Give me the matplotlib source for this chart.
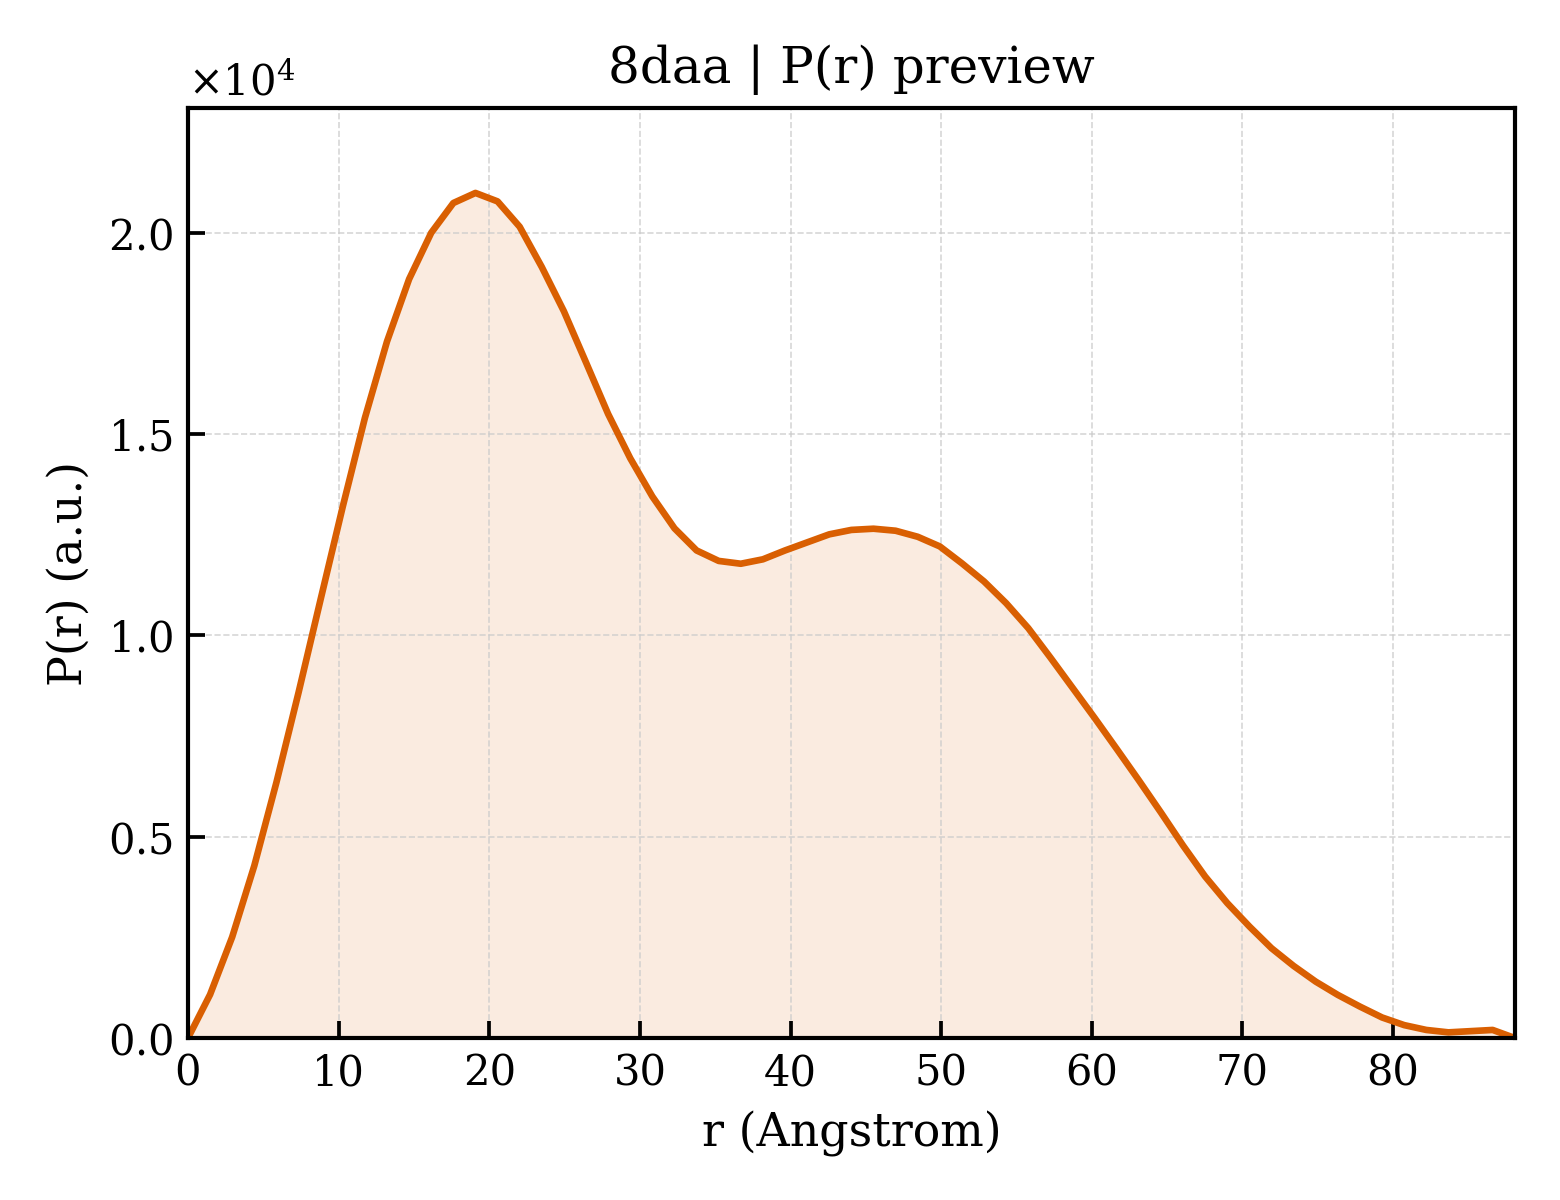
import numpy as np
import matplotlib
matplotlib.use("Agg")
import matplotlib.pyplot as plt
from matplotlib.ticker import ScalarFormatter

# P(r) samples (r in Angstrom, P in units of 1e4)
r_step = 1.468
p_vals = [
    0.000, 0.108, 0.251, 0.428, 0.635, 0.858, 1.090, 1.320, 1.540, 1.730,
    1.885, 2.000, 2.074, 2.099, 2.078, 2.015, 1.915, 1.805, 1.678, 1.550,
    1.440, 1.345, 1.266, 1.211, 1.185, 1.178, 1.189, 1.211, 1.231, 1.251,
    1.262, 1.265, 1.260, 1.245, 1.221, 1.179, 1.134, 1.080, 1.018, 0.945,
    0.870, 0.795, 0.718, 0.640, 0.560, 0.478, 0.401, 0.335, 0.277, 0.223,
    0.179, 0.140, 0.107, 0.078, 0.051, 0.032, 0.020, 0.014, 0.017, 0.020,
    0.000,
]
r = np.arange(len(p_vals)) * r_step
p = np.array(p_vals) * 1e4

LINE = "#d95f02"

plt.rcParams["font.family"] = "DejaVu Serif"
plt.rcParams["mathtext.fontset"] = "dejavuserif"

fig, ax = plt.subplots(figsize=(5.2, 4), dpi=300)
fig.subplots_adjust(left=0.1205, right=0.971, top=0.91, bottom=0.135)

ax.fill_between(r, 0, p, color=LINE, alpha=0.12, linewidth=0)
ax.plot(r, p, color=LINE, linewidth=1.6)

ax.set_xlim(0, r[-1])
ax.set_ylim(0, 2.31e4)
ax.set_xticks(np.arange(0, 81, 10))
ax.set_yticks([0, 5000, 10000, 15000, 20000])

fmt = ScalarFormatter(useMathText=True)
fmt.set_scientific(True)
fmt.set_powerlimits((0, 0))
ax.yaxis.set_major_formatter(fmt)
ax.yaxis.get_offset_text().set_fontsize(10)

ax.tick_params(direction="in", labelsize=10, length=4, width=0.9)
ax.grid(True, linestyle="--", linewidth=0.4, color="#cccccc", alpha=0.8)
for s in ax.spines.values():
    s.set_linewidth(1.0)

ax.set_xlabel("r (Angstrom)", fontsize=11)
ax.set_ylabel("P(r) (a.u.)", fontsize=11)
ax.set_title("8daa | P(r) preview", fontsize=12)

fig.savefig("out.png", dpi=300)
